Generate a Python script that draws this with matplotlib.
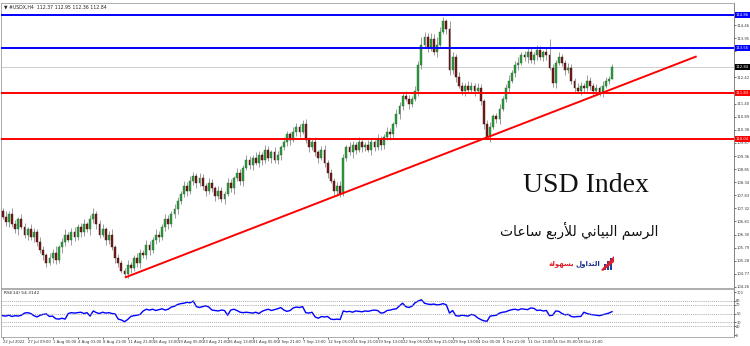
import matplotlib.pyplot as plt
from matplotlib.patches import Rectangle, Polygon
import matplotlib.transforms as mtransforms

# each candle = two H4 bars of the original chart
closes = [
    107.0, 106.8, 107.1, 106.7, 106.5, 106.9, 106.6, 106.3, 106.5, 106.2,
    106.4, 106.0, 105.7, 105.5, 105.2, 105.4, 105.6, 105.3, 105.8, 106.0,
    106.3, 106.1, 106.4, 106.2, 106.6, 106.4, 106.7, 106.5, 106.9, 107.1,
    106.7, 106.3, 106.5, 106.1, 106.3, 105.8, 105.4, 105.2, 104.9, 104.75,
    105.1, 105.0, 105.4, 105.2, 105.6, 105.5, 105.9, 105.7, 106.1, 106.3,
    106.2, 106.6, 106.9, 106.7, 107.1, 107.3, 107.6, 107.9, 108.2, 108.0,
    108.4, 108.6, 108.3, 108.5, 108.2, 108.0, 108.3, 108.1, 107.8, 108.0,
    107.7, 107.9, 108.3, 108.1, 108.5, 108.7, 108.4, 108.9, 109.2, 109.0,
    109.3, 109.1, 109.4, 109.2, 109.6, 109.3, 109.5, 109.2, 109.4, 109.7,
    109.9, 110.2, 110.0, 110.3, 110.5, 110.3, 110.6, 110.0, 109.7, 109.9,
    109.5, 109.3, 109.6, 109.1, 108.7, 108.4, 108.0, 108.2, 107.9, 109.3,
    109.7, 109.5, 109.8, 109.6, 109.9, 109.7, 109.8, 109.6, 109.9, 109.7,
    110.0, 109.8, 110.1, 110.3, 110.2, 110.6, 111.0, 111.3, 111.7, 111.6,
    111.4, 111.6, 111.9, 112.9, 113.7, 114.0, 113.6, 113.9, 113.4, 113.7,
    114.2, 114.6, 114.3, 112.7, 113.2, 112.45, 112.1, 111.9, 112.1, 111.95,
    112.1, 111.9, 112.0, 111.5, 110.6, 110.1, 110.5, 110.9, 110.8, 111.2,
    111.6, 112.0, 112.3, 112.6, 112.9, 113.0, 113.3, 113.2, 113.4, 113.1,
    113.3, 113.5, 113.2, 113.4, 113.3, 112.8, 112.2, 113.0, 113.2, 113.0,
    112.7, 112.8, 112.3, 112.0, 111.9, 112.1, 112.0, 112.3, 112.1, 111.9,
    112.0, 111.85, 112.1, 112.3, 112.37, 112.84,
]
first_open = 107.2
up_wick = [
    .15, .2, .1, .25, .15, .1, .2, .15, .1, .2,
    .15, .1, .2, .15, .1, .2, .15, .25, .1, .15,
    .2, .1, .15, .2, .1, .15, .2, .1, .15, .25,
    .1, .15, .2, .1, .15, .2, .1, .15, .1, .1,
    .2, .15, .1, .2, .15, .1, .2, .15, .1, .2,
    .15, .1, .2, .15, .1, .2, .15, .1, .2, .15,
    .2, .15, .1, .2, .15, .1, .2, .15, .1, .2,
    .15, .1, .2, .15, .1, .2, .15, .1, .2, .15,
    .1, .2, .15, .1, .2, .15, .1, .2, .15, .1,
    .2, .15, .1, .2, .15, .1, .15, .2, .1, .15,
    .2, .1, .15, .2, .1, .15, .1, .15, .2, .15,
    .1, .2, .15, .1, .2, .15, .1, .2, .15, .1,
    .2, .15, .1, .2, .15, .1, .2, .15, .1, .2,
    .15, .1, .2, .15, .3, .2, .15, .25, .2, .3,
    .2, .18, .1, .3, .2, .15, .2, .15, .1, .2,
    .15, .1, .2, .15, .1, .15, .2, .1, .15, .2,
    .1, .15, .2, .1, .15, .2, .1, .15, .2, .15,
    .1, .2, .15, .1, .2, .6, .15, .1, .2, .15,
    .1, .2, .15, .1, .2, .15, .1, .2, .15, .1,
    .15, .1, .2, .15, .1, .11,
]
dn_wick = [
    .1, .15, .2, .1, .15, .2, .1, .15, .2, .1,
    .2, .15, .1, .2, .15, .1, .2, .15, .1, .2,
    .15, .1, .2, .15, .1, .2, .15, .1, .2, .15,
    .2, .15, .1, .2, .15, .1, .2, .15, .1, .11,
    .15, .2, .1, .15, .2, .1, .15, .2, .1, .15,
    .2, .1, .15, .2, .1, .15, .2, .1, .15, .2,
    .1, .15, .2, .1, .15, .2, .1, .15, .2, .1,
    .15, .2, .1, .15, .2, .1, .15, .2, .1, .15,
    .2, .1, .15, .2, .1, .15, .2, .1, .15, .2,
    .1, .15, .2, .1, .15, .2, .1, .15, .2, .1,
    .15, .2, .1, .15, .2, .1, .15, .2, .15, .1,
    .15, .1, .2, .15, .1, .2, .15, .1, .2, .15,
    .1, .2, .15, .1, .2, .15, .1, .2, .15, .1,
    .2, .15, .1, .2, .15, .1, .2, .15, .1, .2,
    .15, .1, .2, .2, .15, .2, .1, .15, .2, .1,
    .15, .2, .1, .15, .2, .05, .2, .1, .15, .2,
    .1, .15, .2, .1, .15, .2, .1, .15, .2, .1,
    .15, .2, .1, .15, .2, .1, .15, .2, .1, .15,
    .2, .1, .15, .2, .1, .15, .2, .1, .15, .2,
    .1, .15, .2, .1, .15, .01,
]
rsi = [
    45, 44, 46, 43, 45, 44, 46, 51, 52, 50,
    45, 42, 46, 48, 49, 43, 44, 38, 37, 39,
    37, 50, 52, 51, 52, 53, 50, 52, 44, 56,
    52, 50, 53, 51, 52, 50, 49, 37, 35, 31,
    36, 43, 45, 46, 48, 56, 60, 58, 60, 57,
    59, 61, 58, 60, 65, 67, 71, 73, 74, 76,
    75, 79, 66, 64, 66, 68, 65, 58, 57, 56,
    58, 57, 46, 58, 60, 57, 53, 52, 53, 52,
    51, 53, 50, 55, 58, 60, 57, 59, 61, 64,
    58, 55, 57, 63, 65, 64, 66, 52, 51, 53,
    42, 39, 43, 42, 43, 37, 36, 37, 36, 56,
    54, 55, 53, 56, 55, 54, 56, 55, 57, 58,
    57, 51, 52, 57, 58, 60, 61, 68, 74, 66,
    64, 67, 75, 79, 82, 74, 72, 71, 72, 70,
    71, 73, 70, 51, 57, 45, 44, 46, 45, 44,
    48, 46, 40, 36, 33, 32, 44, 45, 46, 51,
    53, 54, 57, 59, 60, 58, 61, 60, 59, 63,
    62, 57, 58, 56, 57, 45, 46, 56, 55, 50,
    47, 48, 43, 42, 43, 43, 53, 50, 48, 47,
    46, 45, 47, 49, 51, 54.31,
]
rsi_levels = [80, 70, 50, 30, 20]
rsi_ticks = [100, 80, 70, 50, 30, 20, 0]

blue_levels = [114.86, 113.56]
red_levels = [111.83, 110.04]
last_price = 112.84
trend_idx = [39.4, 221.8]
trend_price = [104.64, 113.23]

price_ticks = [114.46, 113.95, 113.44, 112.93, 112.42, 111.91, 111.40, 110.89,
               110.38, 109.87, 109.36, 108.85, 108.34, 107.83, 107.32, 106.81,
               106.30, 105.79, 105.28, 104.77, 104.26]

date_labels = ["22 Jul 2022", "27 Jul 09:00", "1 Aug 05:00", "4 Aug 01:00",
               "8 Aug 21:00", "11 Aug 21:00", "16 Aug 13:00", "19 Aug 05:00",
               "23 Aug 21:00", "26 Aug 13:00", "31 Aug 05:00", "2 Sep 21:00",
               "7 Sep 13:00", "12 Sep 05:00", "14 Sep 21:00", "19 Sep 13:00",
               "22 Sep 05:00", "26 Sep 21:00", "29 Sep 13:00", "4 Oct 05:00",
               "6 Oct 21:00", "11 Oct 13:00", "14 Oct 05:00", "18 Oct 21:00"]
label_every = 8

W, H = 750, 346
PLOT_W = 733
fig = plt.figure(figsize=(W / 100, H / 100), dpi=100)
fig.patch.set_facecolor("white")

ax = fig.add_axes([0.001, 1 - 288 / H, PLOT_W / W, 285 / H])
ax_r = fig.add_axes([0.001, 1 - 337 / H, PLOT_W / W, 48 / H], sharex=ax)

opens = [first_open] + closes[:-1]
idx = list(range(len(closes)))
highs = [max(o, c) + u for o, c, u in zip(opens, closes, up_wick)]
lows = [min(o, c) - d for o, c, d in zip(opens, closes, dn_wick)]

ax.vlines(idx, lows, highs, color="#8c8c8c", lw=0.6, zorder=2)
bull = [i for i in idx if closes[i] >= opens[i]]
bear = [i for i in idx if closes[i] < opens[i]]
ax.bar(bull, [closes[i] - opens[i] for i in bull], bottom=[opens[i] for i in bull],
       width=0.6, color="#2e9a3e", edgecolor="#1f6b2a", lw=0.3, zorder=3)
ax.bar(bear, [opens[i] - closes[i] for i in bear], bottom=[closes[i] for i in bear],
       width=0.6, color="#7a1c1c", edgecolor="#3a0a0a", lw=0.3, zorder=3)

ax.axhline(last_price, color="#c8c8c8", lw=0.6, zorder=1)
for lv in blue_levels:
    ax.axhline(lv, color="#0000ff", lw=1.4, zorder=4)
for lv in red_levels:
    ax.axhline(lv, color="#ff0000", lw=1.4, zorder=4)
ax.plot(trend_idx, trend_price, color="#ff0000", lw=1.4, zorder=4)

# price scale: labels hidden where a level box sits on top of them (as in MT4)
box_levels = blue_levels + [last_price] + red_levels
ax.set_xlim(-0.6, -0.6 + PLOT_W / 3.125)
ax.set_ylim(104.22, 115.32)
ax.yaxis.tick_right()
ax.set_yticks(price_ticks)
ax.set_yticklabels(["" if min(abs(t - b) for b in box_levels) < 0.13 else f"{t:.2f}"
                    for t in price_ticks])
ax.tick_params(axis="y", labelsize=2.7, length=1.2, width=0.5, pad=0.6, colors="#333333")
ax.tick_params(axis="x", bottom=False, labelbottom=False)
for s in ax.spines.values():
    s.set_color("#a0a0a0")
    s.set_linewidth(0.6)
ax.spines["right"].set_color("#707070")

yt = mtransforms.blended_transform_factory(ax.transAxes, ax.transData)
boxes = [(v, "#0000ff") for v in blue_levels] + [(last_price, "#000000")] + \
        [(v, "#ff0000") for v in red_levels]
for v, col in boxes:
    ax.text(1.003, v, f"{v:.2f}", transform=yt, fontsize=2.7, color="white",
            va="center", ha="left", clip_on=False, zorder=6,
            bbox=dict(boxstyle="square,pad=0.25", fc=col, ec="none"))

ax.text(0.004, 0.994, "\u25bc #USDX,H4  112.37 112.95 112.36 112.84", transform=ax.transAxes,
        fontsize=3.3, va="top", ha="left", color="#222222")

# RSI panel
ax_r.plot(idx, rsi, color="#0000ff", lw=1.0)
for lv in rsi_levels:
    ax_r.axhline(lv, color="#909090", lw=0.5, ls=(0, (1.5, 1.5)))
ax_r.set_ylim(-4.6, 107)
ax_r.yaxis.tick_right()
ax_r.set_yticks(rsi_ticks)
ax_r.set_yticklabels([str(t) for t in rsi_ticks])
ax_r.tick_params(axis="y", labelsize=2.5, length=1.2, width=0.5, pad=0.6, colors="#333333")
tick_pos = [i * label_every for i in range(len(date_labels))]
ax_r.set_xticks(tick_pos)
ax_r.set_xticklabels(date_labels, ha="left")
ax_r.tick_params(axis="x", labelsize=2.7, length=1.5, width=0.5, pad=0.8, colors="#333333")
for s in ax_r.spines.values():
    s.set_color("#a0a0a0")
    s.set_linewidth(0.6)
ax_r.spines["right"].set_color("#707070")
ax_r.text(0.004, 0.95, "RSI(14) 54.3142", transform=ax_r.transAxes, fontsize=3.2,
          va="top", ha="left", color="#222222")

# overlay texts
fig.text(586 / W, 1 - 186 / H, "USD Index", family="Liberation Serif", fontsize=20,
         ha="center", va="center", color="#111111")
fig.text(579 / W, 1 - 230 / H, "\ufe95\ufe8e\ufecb\ufe8e\ufeb3 \ufeca\ufe91\ufead\ufef8\ufedf "
         "\ufef2\ufee7\ufe8e\ufef4\ufe92\ufedf\ufe8d \ufee2\ufeb3\ufeae\ufedf\ufe8d",
         family="DejaVu Sans", fontsize=10, ha="center", va="center", color="#111111")
fig.text(600 / W, 1 - 264 / H, "\ufedd\ufeed\ufe8d\ufeaa\ufe98\ufedf\ufe8d", family="DejaVu Sans",
         fontsize=5, weight="bold", ha="right", va="center", color="#1a2f8a")
fig.text(574 / W, 1 - 264 / H, "\ufe94\ufedf\ufeee\ufeec\ufeb4\ufe91", family="DejaVu Sans",
         fontsize=5, weight="bold", ha="right", va="center", color="#e0202a")
# logo icon
tf = fig.transFigure
for bx, bh in [(604, 6), (607, 9), (610, 12)]:
    fig.patches.append(Rectangle((bx / W, 1 - 270 / H), 2 / W, bh / H, transform=tf,
                                 fc="#1a3fa8", ec="none"))
fig.patches.append(Polygon([(601 / W, 1 - 270 / H), (614 / W, 1 - 256 / H),
                            (614 / W, 1 - 262 / H), (603 / W, 1 - 271 / H)],
                           closed=True, transform=tf, fc="#e0202a", ec="none"))

fig.savefig("out.png", dpi=100, facecolor="white")
